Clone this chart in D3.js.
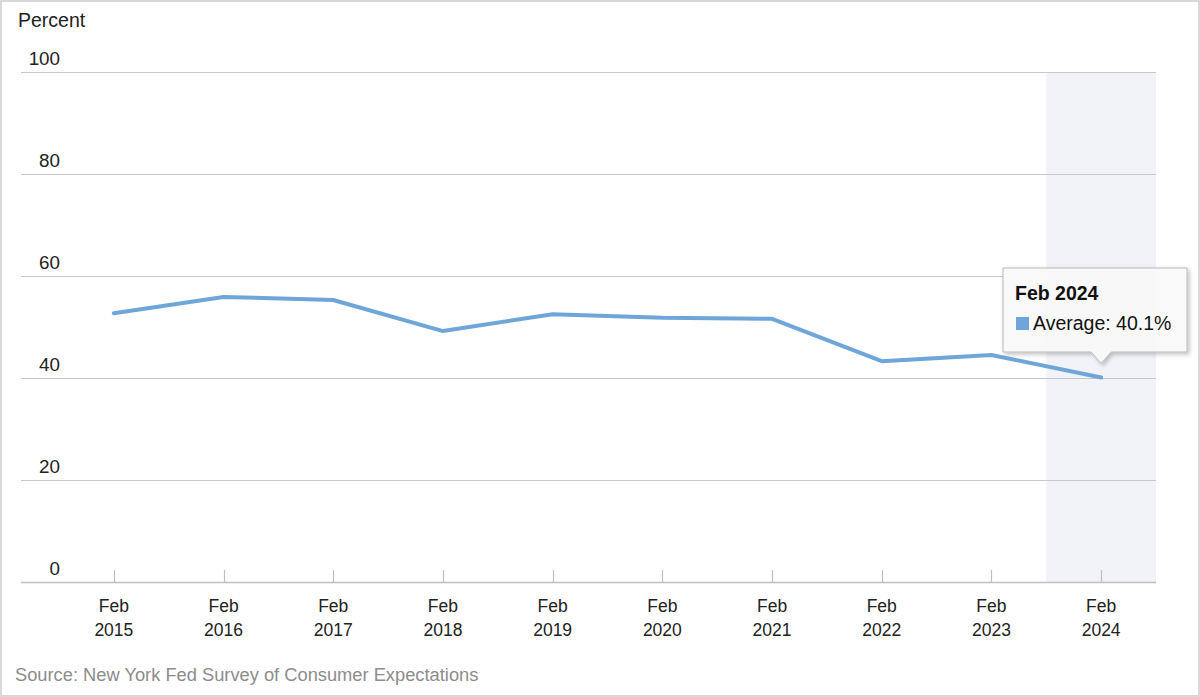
<!DOCTYPE html>
<html>
<head>
<meta charset="utf-8">
<script src="https://cdn.jsdelivr.net/npm/d3@7"></script>
<style>
  body { margin: 0; background: #fff; }
  svg { display: block; font-family: "Liberation Sans", Arial, sans-serif; }
</style>
</head>
<body>
<div id="chart"></div>
<script>
// data
var years = ["2015", "2016", "2017", "2018", "2019", "2020", "2021", "2022", "2023", "2024"];
var values = [52.7, 55.9, 55.3, 49.2, 52.5, 51.8, 51.6, 43.3, 44.5, 40.1];
var yTicks = [0, 20, 40, 60, 80, 100];
var highlightYear = "2024";

var width = 1200, height = 697;
var margin = { top: 72, right: 44, bottom: 115, left: 59 };

var svg = d3.select("#chart").append("svg")
  .attr("width", width)
  .attr("height", height);

// outer frame
svg.append("rect")
  .attr("x", 1).attr("y", 1)
  .attr("width", width - 2).attr("height", height - 2)
  .attr("fill", "none")
  .attr("stroke", "#d9d9d9")
  .attr("stroke-width", 2);

var x = d3.scaleBand()
  .domain(years)
  .range([margin.left, width - margin.right]);

var y = d3.scaleLinear()
  .domain([0, 100])
  .range([height - margin.bottom, margin.top]);

// highlight band for hovered year
svg.append("rect")
  .attr("x", x(highlightYear))
  .attr("y", margin.top)
  .attr("width", x.bandwidth())
  .attr("height", y(0) - margin.top)
  .attr("fill", "#f2f3f8");

// gridlines
var gridLeft = 21;
svg.append("g")
  .selectAll("line")
  .data(yTicks)
  .enter().append("line")
  .attr("x1", gridLeft)
  .attr("x2", width - margin.right)
  .attr("y1", function (d) { return Math.round(y(d)) + 0.5; })
  .attr("y2", function (d) { return Math.round(y(d)) + 0.5; })
  .attr("stroke", function (d) { return d === 0 ? "#c0c0c0" : "#c8c8c8"; })
  .attr("stroke-width", function (d) { return d === 0 ? 1.5 : 1.2; });

// y labels sit above each gridline
svg.append("g")
  .selectAll("text")
  .data(yTicks)
  .enter().append("text")
  .attr("x", 60)
  .attr("y", function (d) { return y(d) - 7; })
  .attr("text-anchor", "end")
  .attr("font-size", 18.8)
  .attr("fill", "#222")
  .text(function (d) { return d; });

svg.append("text")
  .attr("x", 18)
  .attr("y", 27)
  .attr("font-size", 19.5)
  .attr("fill", "#222")
  .text("Percent");

// x ticks and labels
var xc = function (d) { return x(d) + x.bandwidth() / 2; };
var xAxis = svg.append("g");
xAxis.selectAll("line")
  .data(years)
  .enter().append("line")
  .attr("x1", function (d) { return Math.round(xc(d)) + 0.5; })
  .attr("x2", function (d) { return Math.round(xc(d)) + 0.5; })
  .attr("y1", y(0) - 12)
  .attr("y2", y(0))
  .attr("stroke", "#c0c0c0")
  .attr("stroke-width", 1.2);

var xl = xAxis.selectAll("text")
  .data(years)
  .enter().append("text")
  .attr("text-anchor", "middle")
  .attr("font-size", 17.5)
  .attr("fill", "#222");
xl.append("tspan")
  .attr("x", xc)
  .attr("y", y(0) + 30)
  .text("Feb");
xl.append("tspan")
  .attr("x", xc)
  .attr("y", y(0) + 54)
  .text(function (d) { return d; });

// line
var line = d3.line()
  .x(function (d, i) { return xc(years[i]); })
  .y(function (d) { return y(d); });

svg.append("path")
  .datum(values)
  .attr("d", line)
  .attr("fill", "none")
  .attr("stroke", "#6fa6d9")
  .attr("stroke-width", 4)
  .attr("stroke-linejoin", "round")
  .attr("stroke-linecap", "round");

// source
svg.append("text")
  .attr("x", 15)
  .attr("y", 681)
  .attr("font-size", 18.3)
  .attr("fill", "#8c8c8c")
  .text("Source: New York Fed Survey of Consumer Expectations");

// tooltip
var hi = years.indexOf(highlightYear);
var tipX = xc(highlightYear), tipY = y(values[hi]) - 14;
var bx = 1003, by = 268, bw = 184, bh = 84;
var tipPath = "M" + bx + "," + by +
  "H" + (bx + bw) + "V" + (by + bh) +
  "H" + (tipX + 10) + "L" + tipX + "," + (tipY) + "L" + (tipX - 10) + "," + (by + bh) +
  "H" + bx + "Z";

var defs = svg.append("defs");
var f = defs.append("filter").attr("id", "shadow")
  .attr("x", "-10%").attr("y", "-10%").attr("width", "130%").attr("height", "140%");
f.append("feDropShadow")
  .attr("dx", 2).attr("dy", 2).attr("stdDeviation", 2)
  .attr("flood-color", "#000").attr("flood-opacity", 0.25);

var tip = svg.append("g");
tip.append("path")
  .attr("d", tipPath)
  .attr("fill", "rgba(250,250,250,0.95)")
  .attr("stroke", "#b8b8b8")
  .attr("stroke-width", 1)
  .attr("filter", "url(#shadow)");
tip.append("text")
  .attr("x", bx + 12)
  .attr("y", by + 32)
  .attr("font-size", 19.5)
  .attr("font-weight", "bold")
  .attr("fill", "#111")
  .text("Feb " + highlightYear);
tip.append("rect")
  .attr("x", bx + 13)
  .attr("y", by + 49)
  .attr("width", 13)
  .attr("height", 13)
  .attr("fill", "#6fa6d9");
tip.append("text")
  .attr("x", bx + 30)
  .attr("y", by + 62)
  .attr("font-size", 19.5)
  .attr("fill", "#111")
  .text("Average: " + values[hi].toFixed(1) + "%");
</script>
</body>
</html>
